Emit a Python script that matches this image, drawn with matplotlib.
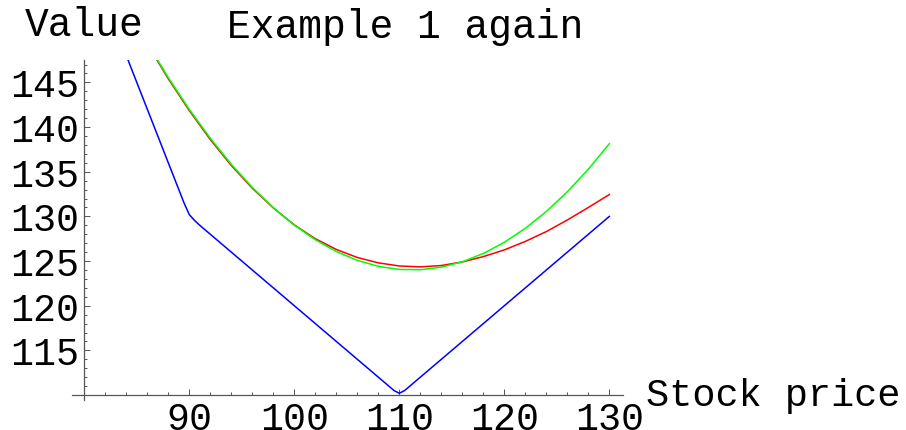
import matplotlib
matplotlib.use("Agg")
import matplotlib.pyplot as plt
from matplotlib.ticker import MultipleLocator

# stock price grid and the three value curves
PRICE_BLUE = [83, 84, 86, 88, 89, 89.5, 90, 90.5, 91, 92, 100, 109.5, 110, 110.5, 120, 130]
VALUE_BLUE = [151.0, 148.0, 142.0, 136.0, 133.0, 131.5, 130.2, 129.55, 129.0, 128.0,
              120.0, 110.5, 110.2, 110.5, 120.0, 130.0]

PRICE = [86, 88, 90, 92, 94, 96, 98, 100, 102, 104, 106, 108,
         110, 112, 114, 116, 118, 120, 122, 124, 126, 128, 130]
VALUE_RED = [149.3, 145.4, 141.85, 138.6, 135.7, 133.15, 130.95, 129.05, 127.5, 126.3,
             125.4, 124.8, 124.45, 124.35, 124.5, 124.9, 125.5, 126.25, 127.2, 128.3,
             129.6, 131.0, 132.45]
VALUE_GREEN = [149.4, 145.53, 141.98, 138.75, 135.83, 133.24, 130.97, 129.02, 127.39,
               126.07, 125.08, 124.41, 124.06, 124.03, 124.31, 124.92, 125.85, 127.1,
               128.67, 130.55, 132.76, 135.29, 138.14]

MONO = "Liberation Mono"
W, H = 906, 431

fig = plt.figure(figsize=(W / 100, H / 100), dpi=100)
ax = fig.add_axes([71.7 / W, 1 - 401.4 / H, (623 - 71.7) / W, (401.4 - 61.1) / H])

ax.plot(PRICE_BLUE, VALUE_BLUE, color="#0000ff", linewidth=1.1)
ax.plot(PRICE, VALUE_RED, color="#ff0000", linewidth=1.1)
ax.plot(PRICE, VALUE_GREEN, color="#00ff00", linewidth=1.1)

ax.set_xlim(78.8, 131.3)
ax.set_ylim(109.4, 147.5)

for side in ["top", "right"]:
    ax.spines[side].set_visible(False)
ax.spines["left"].set_position(("data", 80))
ax.spines["bottom"].set_position(("data", 110))
for side in ["left", "bottom"]:
    ax.spines[side].set_color("#555555")
    ax.spines[side].set_linewidth(0.9)

ax.xaxis.set_minor_locator(MultipleLocator(2))
ax.yaxis.set_minor_locator(MultipleLocator(1))
ax.set_xticks([90, 100, 110, 120, 130])
ax.set_yticks([115, 120, 125, 130, 135, 140, 145])

ax.tick_params(which="both", direction="in", color="#555555", width=0.7)
ax.tick_params(which="major", length=4.5, labelsize=27.5, pad=4)
ax.tick_params(which="minor", length=2.5)
for lab in ax.get_xticklabels() + ax.get_yticklabels():
    lab.set_fontfamily(MONO)

# axis labels and title placed like the original
fig.text(25 / W, 1 - 36 / H, "Value", fontsize=28.5, family=MONO, ha="left", va="baseline")
fig.text(405 / W, 1 - 38 / H, "Example 1 again", fontsize=28.5, family=MONO,
         ha="center", va="baseline")
fig.text(646 / W, 1 - 406 / H, "Stock price", fontsize=27.8, family=MONO,
         ha="left", va="baseline")

fig.savefig("out.png", dpi=100)
